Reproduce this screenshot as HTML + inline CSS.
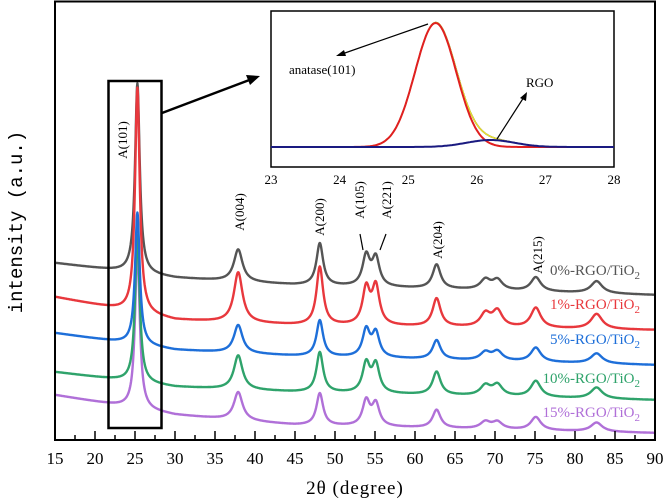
<!DOCTYPE html>
<html><head><meta charset="utf-8"><style>
html,body{margin:0;padding:0;background:#fff;}
svg{display:block;font-family:"Liberation Serif","Noto Serif CJK SC",serif;}
</style></head><body>
<svg id="chart" width="663" height="501" viewBox="0 0 663 501">
<rect x="0" y="0" width="663" height="501" fill="#fff"/>
<g id="series"></g>
<g id="inset"></g>
<g id="axes"></g>
</svg>
<script>
// ---- main chart data ----
const peakPositions = [25.3, 37.9, 48.1, 53.9, 55.1, 62.7, 68.8, 70.3, 75.1, 82.7];
const peakWidths    = [0.35, 0.65, 0.5, 0.55, 0.55, 0.6, 0.75, 0.75, 0.75, 0.85];
const seriesNames = ["0%-RGO/TiO", "1%-RGO/TiO", "5%-RGO/TiO", "10%-RGO/TiO", "15%-RGO/TiO"];
const seriesColors = ["#555555", "#e8383d", "#1e6fd9", "#2fa36b", "#b070d8"];
const heightsGray   = [190, 32, 42, 30, 28, 24, 10, 10, 14, 12];
const heightsRed    = [225, 50, 58, 36, 38, 28, 13, 16, 20, 15];
const heightsBlue   = [132, 28, 36, 27, 24, 19, 8, 9, 14, 10];
const heightsGreen  = [147, 34, 40, 29, 28, 23, 10, 11, 16, 11];
const heightsPurple = [160, 28, 32, 25, 22, 18, 7, 7, 13, 9];
const baselineX = [15, 30, 45, 90];
const baseGray   = [177, 162, 155, 145];
const baseRed    = [143, 120, 115, 110];
const baseBlue   = [107, 90, 84, 75];
const baseGreen  = [68, 53, 48, 40];
const basePurple = [45, 25, 15, 7];
const xTicks = [15,20,25,30,35,40,45,50,55,60,65,70,75,80,85,90];
const peakLabels = ["A(101)","A(004)","A(200)","A(105)","A(221)","A(204)","A(215)"];
// ---- inset data ----
const insetTicks = [23,24,25,26,27,28];
const anataseFit = {center:25.4, height:124, sigma:0.3};
const rgoFit = {center:26.2, height:7, sigma:0.35};

const NS="http://www.w3.org/2000/svg";
const X0=55, X1=655, Y0=440;
const xs = v => X0 + (v-15)*(X1-X0)/75;
const ys = v => Y0 - v;
function el(tag, attrs, parent){const e=document.createElementNS(NS,tag);for(const k in attrs)e.setAttribute(k,attrs[k]);parent.appendChild(e);return e;}
function interp(xArr,yArr,x){for(let i=0;i<xArr.length-1;i++){if(x<=xArr[i+1]){const t=(x-xArr[i])/(xArr[i+1]-xArr[i]);return yArr[i]+t*(yArr[i+1]-yArr[i]);}}return yArr[yArr.length-1];}

const sG=document.getElementById('series');
const allHeights=[heightsGray,heightsRed,heightsBlue,heightsGreen,heightsPurple];
const allBases=[baseGray,baseRed,baseBlue,baseGreen,basePurple];
const order=[4,3,2,0,1];
order.forEach(s=>{
  let d="";
  for(let x=15;x<=90.001;x+=0.05){
    let v=interp(baselineX,allBases[s],x);
    for(let p=0;p<peakPositions.length;p++){
      const w=peakWidths[p], dx=(x-peakPositions[p])/w;
      v+=allHeights[s][p]/(1+dx*dx);
    }
    d+=(d?"L":"M")+xs(x).toFixed(1)+" "+ys(v).toFixed(1);
  }
  const path=el('path',{d:d,fill:"none",stroke:seriesColors[s],"stroke-width":2.4,"stroke-linejoin":"round"},sG);
  
  
});
// legend labels
const legendY=[275,309,344,383,417];
seriesNames.forEach((n,i)=>{
  const t=el('text',{x:640,y:legendY[i],"text-anchor":"end","font-size":15,fill:seriesColors[i]},sG);
  
  
  t.textContent=n;
  const sub=el('tspan',{"font-size":11,dy:4},t);sub.textContent="2";
});

// axes
const aG=document.getElementById('axes');
const frame=el('rect',{x:X0,y:1.5,width:X1-X0,height:Y0-1.5,fill:"none",stroke:"#000","stroke-width":2},aG);


for(let v=15;v<=90;v+=2.5){
  const major=(v%5===0);
  el('line',{x1:xs(v),x2:xs(v),y1:Y0,y2:Y0-(major?9:5),stroke:"#000","stroke-width":1.5},aG);
}
xTicks.forEach(v=>{
  const t=el('text',{x:xs(v),y:464,"text-anchor":"middle","font-size":17},aG);
  
  
  t.textContent=v;
});
let t=el('text',{x:355,y:494,"text-anchor":"middle","font-size":19,"letter-spacing":"1"},aG);

t.textContent="2θ  (degree)";
t=el('text',{x:0,y:0,"text-anchor":"middle","font-size":19,"font-family":"Liberation Mono, monospace",transform:"translate(22,222) rotate(-90)"},aG);

t.textContent="intensity (a.u.)";
// highlight box and arrow
const box=el('rect',{x:108.5,y:81,width:53,height:347,fill:"none",stroke:"#000","stroke-width":2.5},aG);

el('line',{x1:162,y1:113,x2:252,y2:79,stroke:"#000","stroke-width":2.5},aG);
el('polygon',{points:"260,76 246,75 250,85",fill:"#000"},aG);
// peak labels
const plPos=[[123,140],[240,212],[320,217],[360,200],[387,200],[438,240],[538,255]];
peakLabels.forEach((l,i)=>{
  const tx=plPos[i][0], ty=plPos[i][1];
  const e=el('text',{x:0,y:0,"text-anchor":"middle","font-size":13,transform:`translate(${tx+4},${ty}) rotate(-90)`},aG);
  
  e.textContent=l;
});
el('line',{x1:360,y1:234,x2:363,y2:250,stroke:"#000","stroke-width":1.2},aG);
el('line',{x1:386,y1:234,x2:380,y2:250,stroke:"#000","stroke-width":1.2},aG);

// inset
const iG=document.getElementById('inset');
const IX0=271,IX1=614,IY0=11,IY1=167,IB=147;
const ixs=v=>IX0+(v-23)*(IX1-IX0)/5;
const iys=v=>IB-v;
const ir=el('rect',{x:IX0,y:IY0,width:IX1-IX0,height:IY1-IY0,fill:"#fff",stroke:"#000","stroke-width":1.5},iG);

function gauss(f,x){const d=(x-f.center)/f.sigma;return f.height*Math.exp(-0.5*d*d);}
function curve(fn,color,w,name){let d="";for(let x=23;x<=28.0001;x+=0.02){d+=(d?"L":"M")+ixs(x).toFixed(1)+" "+iys(fn(x)).toFixed(1);}
  const p=el('path',{d:d,fill:"none",stroke:color,"stroke-width":w},iG);
  }
curve(x=>gauss(anataseFit,x)+gauss(rgoFit,x),"#000",1.5,"inset-data");
curve(x=>gauss(anataseFit,x)+gauss(rgoFit,x),"#e8e030",1.5,"inset-cumulative-fit");
curve(x=>gauss(anataseFit,x),"#e02020",2,"inset-anatase-fit");
curve(x=>gauss(rgoFit,x),"#1a1a80",2,"inset-rgo-fit");
insetTicks.forEach(v=>{
  const e=el('text',{x:ixs(v),y:184,"text-anchor":"middle","font-size":13},iG);
  
  e.textContent=v;
});
t=el('text',{x:289,y:74,"font-size":13},iG);t.textContent="anatase(101)";
t=el('text',{x:526,y:87,"font-size":13},iG);t.textContent="RGO";
el('line',{x1:428,y1:24,x2:342,y2:54,stroke:"#000","stroke-width":1.2},iG);
el('polygon',{points:"336,56 344,50 346,56",fill:"#000"},iG);
el('line',{x1:497,y1:139,x2:524,y2:97,stroke:"#000","stroke-width":1.2},iG);
el('polygon',{points:"527,92 520,98 526,101",fill:"#000"},iG);
</script>
</body></html>
